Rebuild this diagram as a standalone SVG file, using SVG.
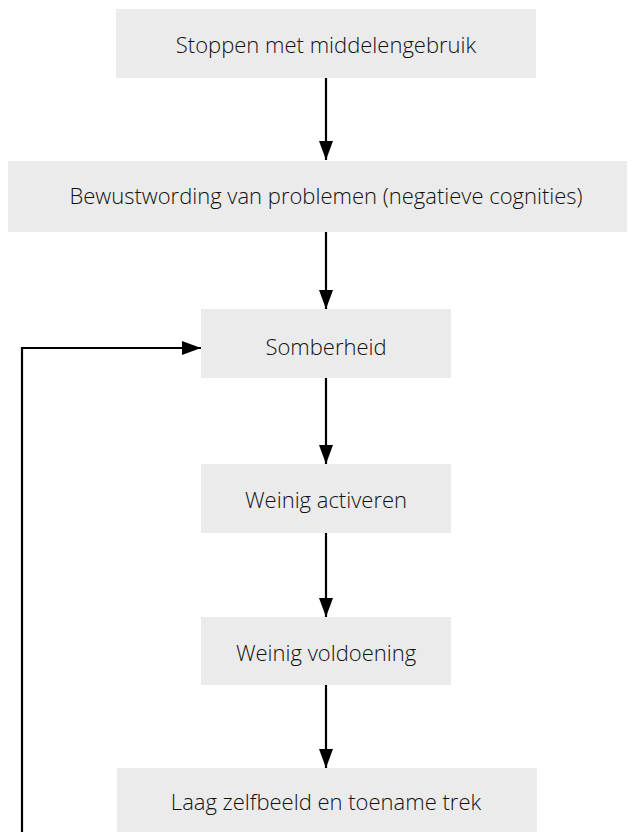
<svg xmlns="http://www.w3.org/2000/svg" width="635" height="832" viewBox="0 0 635 832">
<defs>
<style>
.box{fill:#ebebeb;}
.lbl{font-family:"Open Sans","Noto Sans","Liberation Sans",sans-serif;font-size:22px;font-weight:300;fill:#111;text-anchor:middle;dominant-baseline:central;}
.con{stroke:#000;stroke-width:2.2;fill:none;}
</style>
<marker id="ah" markerWidth="19" markerHeight="14" refX="19" refY="7" orient="auto" markerUnits="userSpaceOnUse">
<path d="M0,0 L19,7 L0,14 Z" fill="#000"/>
</marker>
</defs>
<rect width="635" height="832" fill="#fff"/>
<g id="n1"><rect class="box" x="116" y="9" width="420" height="69"/><text class="lbl" x="326" y="44">Stoppen met middelengebruik</text></g>
<g id="n2"><rect class="box" x="8" y="161" width="619" height="71"/><text class="lbl" x="326" y="195">Bewustwording van problemen (negatieve cognities)</text></g>
<g id="n3"><rect class="box" x="201" y="309" width="250" height="69"/><text class="lbl" x="326" y="346">Somberheid</text></g>
<g id="n4"><rect class="box" x="201" y="464" width="250" height="69"/><text class="lbl" x="326" y="499">Weinig activeren</text></g>
<g id="n5"><rect class="box" x="201" y="617" width="250" height="68"/><text class="lbl" x="326" y="652">Weinig voldoening</text></g>
<g id="n6"><rect class="box" x="117" y="768" width="420" height="64"/><text class="lbl" x="326" y="801">Laag zelfbeeld en toename trek</text></g>
<g id="connectors">
<line class="con" x1="326" y1="78" x2="326" y2="160" marker-end="url(#ah)"/>
<line class="con" x1="326" y1="232" x2="326" y2="309" marker-end="url(#ah)"/>
<line class="con" x1="326" y1="378" x2="326" y2="464" marker-end="url(#ah)"/>
<line class="con" x1="326" y1="533" x2="326" y2="617" marker-end="url(#ah)"/>
<line class="con" x1="326" y1="685" x2="326" y2="768" marker-end="url(#ah)"/>
<polyline class="con" points="22,832 22,348 201,348" marker-end="url(#ah)"/>
</g>
</svg>
